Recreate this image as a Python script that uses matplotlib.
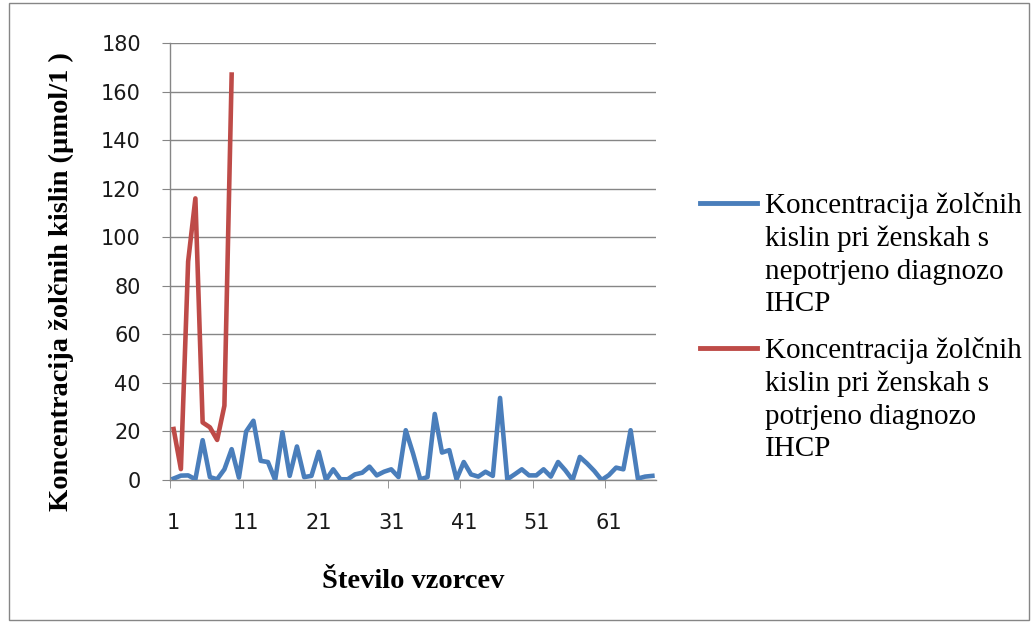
import matplotlib
matplotlib.use('Agg')
import matplotlib.pyplot as plt
from matplotlib.patches import Rectangle
from matplotlib.lines import Line2D
import numpy as np

# values
unconfirmed = [0.6, 1.8, 1.9, 0.3, 16.4, 1.2, 0.3, 4.4, 12.7, 1.0,
               20.0, 24.4, 7.9, 7.4, 0.0, 19.6, 1.7, 13.8, 1.2, 1.7,
               11.6, 0.0, 4.4, 0.3, 0.3, 2.3, 3.0, 5.5, 1.9, 3.4,
               4.4, 1.2, 20.5, 11.0, 0.3, 1.2, 27.2, 11.3, 12.3, 0.3,
               7.4, 2.3, 1.4, 3.4, 1.7, 33.8, 0.3, 2.3, 4.4, 1.9,
               1.9, 4.4, 1.4, 7.4, 4.0, 0.0, 9.5, 6.8, 3.7, 0.0,
               2.0, 5.1, 4.4, 20.5, 0.6, 1.4, 1.7]
confirmed = [21, 4.5, 90, 116, 23.7, 21.7, 16.5, 30.6, 167]

label_blue = 'Koncentracija žolčnih\nkislin pri ženskah s\nnepotrjeno diagnozo\nIHCP'
label_red = 'Koncentracija žolčnih\nkislin pri ženskah s\npotrjeno diagnozo\nIHCP'
x_ticklabels = [1, 11, 21, 31, 41, 51, 61]
y_ticks = list(range(0, 181, 20))

blue = '#4A7EBB'
red = '#BE4B48'
grey = '#868686'
W, H = 1033, 623

fig = plt.figure(figsize=(W / 100, H / 100), dpi=100)
ax = fig.add_axes([170 / W, 1 - 480 / H, 486 / W, 437 / H])

x_blue = np.arange(1, len(unconfirmed) + 1)
x_red = np.arange(1, len(confirmed) + 1)
ax.plot(x_blue, unconfirmed, color=blue, lw=3.3, solid_joinstyle='round', zorder=3)
ax.plot(x_red, confirmed, color=red, lw=3.3, solid_joinstyle='round', zorder=3)

ax.set_xlim(0.5, len(unconfirmed) + 0.5)
ax.set_ylim(0, 180)

for side in ['top', 'right']:
    ax.spines[side].set_visible(False)
for side in ['left', 'bottom']:
    ax.spines[side].set_color(grey)
    ax.spines[side].set_linewidth(1)

ax.set_yticks(y_ticks)
ax.yaxis.grid(True, color=grey, lw=1)
ax.set_axisbelow(True)
ax.tick_params(axis='y', length=6, color=grey, pad=15, labelsize=15)

# labels at categories, tick marks at category boundaries
ax.set_xticks(x_ticklabels)
ax.set_xticks(np.arange(0.5, len(unconfirmed), 10), minor=True)
ax.tick_params(axis='x', which='major', length=0, pad=24, labelsize=15)
ax.tick_params(axis='x', which='minor', length=6, color=grey)
for t in ax.get_xticklabels() + ax.get_yticklabels():
    t.set_family('DejaVu Sans')
    t.set_color('#1a1a1a')

ax.set_ylabel('Koncentracija žolčnih kislin (µmol/1 )', family='Liberation Serif',
              fontweight='bold', fontsize=20.5)
ax.yaxis.set_label_coords((74 - 170) / 486, (480 - 282) / 437)
ax.set_xlabel('Število vzorcev', family='Liberation Serif', fontweight='bold',
              fontsize=20.5)
ax.xaxis.set_label_coords(0.5, (480 - 569) / 437)

# legend, laid out like the Excel original (handle level with the first line)
for color, label, y_line in [(blue, label_blue, 203), (red, label_red, 348)]:
    fig.add_artist(Line2D([700 / W, 757 / W], [1 - y_line / H] * 2, color=color,
                          lw=3.5, transform=fig.transFigure))
    fig.text(765 / W, 1 - (y_line - 11) / H, label, family='Liberation Serif',
             fontsize=21, va='top', ha='left', linespacing=1.33)

fig.patches.append(Rectangle((9 / W, 3 / H), 1020 / W, 617 / H,
                             transform=fig.transFigure, fill=False,
                             edgecolor=grey, lw=1))

fig.savefig('out.png', dpi=100)
